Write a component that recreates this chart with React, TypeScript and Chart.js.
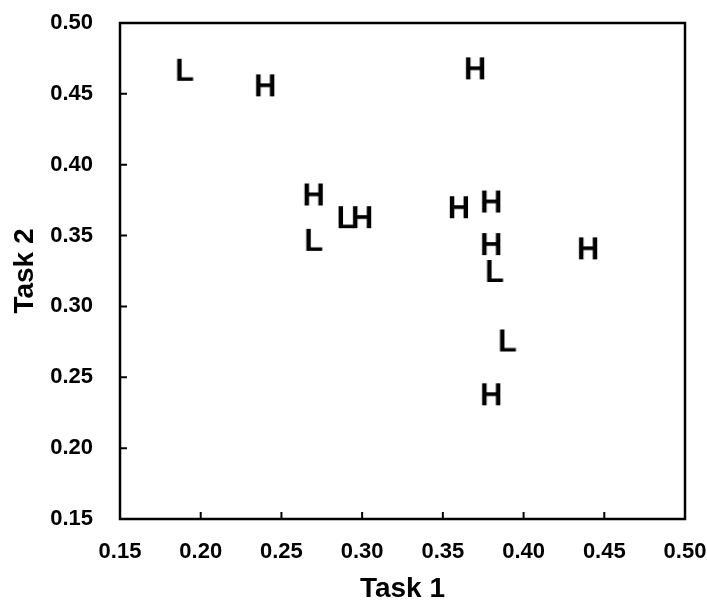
import React, { useEffect, useRef } from "react";
import { Chart, registerables } from "chart.js";

Chart.register(...registerables);

const hTask1 = [0.24, 0.27, 0.30, 0.37, 0.36, 0.38, 0.38, 0.44, 0.38];
const hTask2 = [0.456, 0.379, 0.363, 0.468, 0.370, 0.374, 0.344, 0.341, 0.238];
const lTask1 = [0.19, 0.27, 0.29, 0.382, 0.39];
const lTask2 = [0.467, 0.347, 0.363, 0.325, 0.276];
const xTicks = [0.15, 0.2, 0.25, 0.3, 0.35, 0.4, 0.45, 0.5];
const yTicks = [0.15, 0.2, 0.25, 0.3, 0.35, 0.4, 0.45, 0.5];

const FONT = "'Liberation Sans', Arial, sans-serif";

function letterImage(ch: string): HTMLCanvasElement {
  const c = document.createElement("canvas");
  c.width = 32;
  c.height = 32;
  const ctx = c.getContext("2d")!;
  ctx.fillStyle = "#000";
  ctx.font = `bold 31px ${FONT}`;
  ctx.textAlign = "center";
  ctx.textBaseline = "alphabetic";
  ctx.fillText(ch, 16, 16 + 11);
  return c;
}

const framePlugin = {
  id: "frame",
  afterDraw(chart: any) {
    const { ctx, chartArea } = chart;
    const { left, right, top, bottom } = chartArea;
    ctx.save();
    ctx.strokeStyle = "#000";
    ctx.lineWidth = 2.5;
    ctx.strokeRect(left, top, right - left, bottom - top);
    ctx.lineWidth = 2;
    const xs = chart.scales.x;
    const ys = chart.scales.y;
    ctx.beginPath();
    xs.ticks.forEach((t: any) => {
      const px = xs.getPixelForValue(t.value);
      ctx.moveTo(px, bottom);
      ctx.lineTo(px, bottom - 7);
    });
    ys.ticks.forEach((t: any) => {
      const py = ys.getPixelForValue(t.value);
      ctx.moveTo(left, py);
      ctx.lineTo(left + 7, py);
    });
    ctx.stroke();
    ctx.restore();
  },
};

export default function App() {
  const ref = useRef<HTMLCanvasElement | null>(null);
  useEffect(() => {
    if (!ref.current) return;
    const hImg = letterImage("H");
    const lImg = letterImage("L");
    const chart = new Chart(ref.current, {
      type: "scatter",
      data: {
        datasets: [
          {
            label: "H",
            data: hTask1.map((x, i) => ({ x, y: hTask2[i] })),
            pointStyle: hImg as any,
            radius: 10,
          },
          {
            label: "L",
            data: lTask1.map((x, i) => ({ x, y: lTask2[i] })),
            pointStyle: lImg as any,
            radius: 10,
          },
        ],
      },
      options: {
        responsive: false,
        animation: false,
        layout: { padding: { left: 0, right: 22, top: 23, bottom: 0 } },
        plugins: { legend: { display: false }, tooltip: { enabled: false } },
        scales: {
          x: {
            type: "linear",
            min: 0.15,
            max: 0.5,
            afterBuildTicks: (s: any) => {
              s.ticks = xTicks.map((v) => ({ value: v }));
            },
            afterFit: (s: any) => {
              s.height = 82;
              s.paddingLeft = 0;
              s.paddingRight = 0;
            },
            grid: { display: false, drawTicks: false },
            border: { display: false },
            ticks: {
              color: "#000",
              padding: 20,
              maxRotation: 0,
              font: { family: FONT, size: 22, weight: "bold" },
              callback: (v: any) => Number(v).toFixed(2),
            },
            title: {
              display: true,
              text: "Task 1",
              color: "#000",
              font: { family: FONT, size: 28, weight: "bold", lineHeight: 1 },
              padding: { top: 0, bottom: -2 },
            },
          },
          y: {
            type: "linear",
            min: 0.15,
            max: 0.5,
            afterBuildTicks: (s: any) => {
              s.ticks = yTicks.map((v) => ({ value: v }));
            },
            afterFit: (s: any) => {
              s.width = 120;
              s.paddingTop = 0;
              s.paddingBottom = 0;
            },
            grid: { display: false, drawTicks: false },
            border: { display: false },
            ticks: {
              color: "#000",
              padding: 27,
              font: { family: FONT, size: 22, weight: "bold" },
              callback: (v: any) => Number(v).toFixed(2),
            },
            title: {
              display: true,
              text: "Task 2",
              color: "#000",
              font: { family: FONT, size: 28, weight: "bold", lineHeight: 1 },
              padding: { top: 11, bottom: 0 },
            },
          },
        },
      },
      plugins: [framePlugin],
    });
    return () => chart.destroy();
  }, []);
  return (
    <div style={{ position: "fixed", left: 0, top: 0, width: 707, height: 601, background: "#fff" }}>
      <canvas ref={ref} width={707} height={601} style={{ width: 707, height: 601 }} />
    </div>
  );
}
